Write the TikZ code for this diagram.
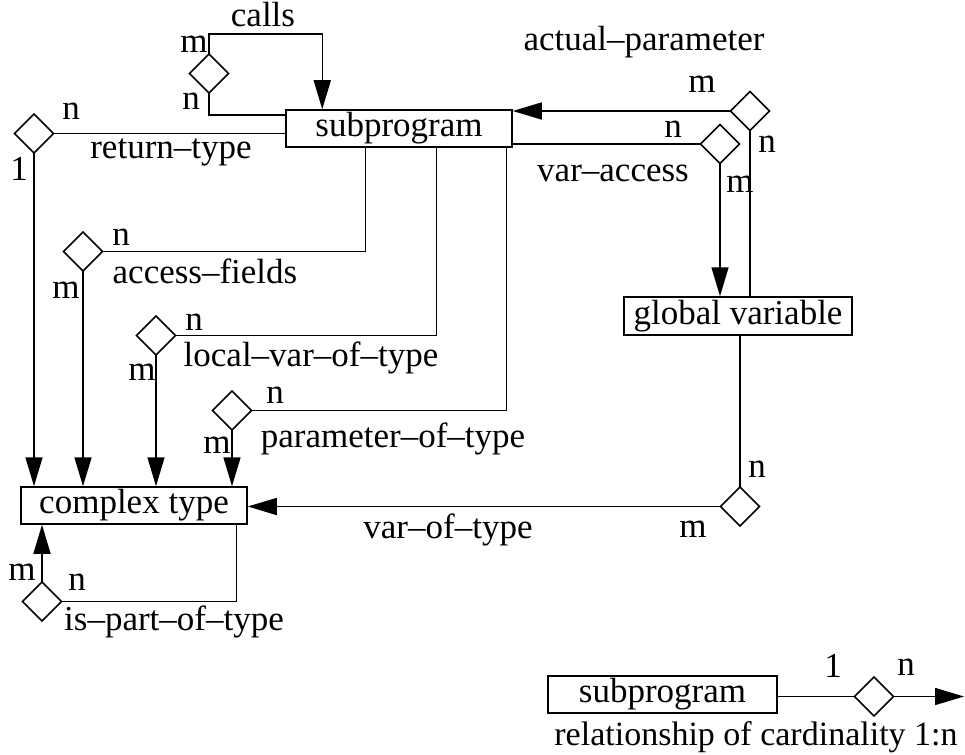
\documentclass[tikz,border=0pt]{standalone}
\usepackage{fontspec}
\setmainfont{Liberation Serif}
\usetikzlibrary{shapes.geometric,arrows.meta}

\tikzset{
  base/.style={font=\fontsize{35}{40}\selectfont},
  entity/.style={base, draw, line width=1.5pt, inner sep=0pt,
    minimum width=226pt, minimum height=37pt},
  rel/.style={draw, shape=diamond, line width=1.5pt, inner sep=0pt,
    minimum width=39pt, minimum height=39pt, outer sep=0pt},
  lbl/.style={base, inner sep=0pt, anchor=base},
  conn/.style={line width=1.5pt},
  arr/.style={conn, -{Triangle[length=29pt, width=17pt]}}
}

\begin{document}
\begin{tikzpicture}[x=1pt, y=-1pt]
\useasboundingbox (0,0) rectangle (965,754);

% entities
\node[entity] (sub) at (399,128.5) {subprogram};
\node[entity] (ctype) at (134,505.5) {complex type};
\node[entity, minimum width=228pt, minimum height=38pt] (gv) at (738,316) {global variable};
\node[entity, minimum width=229pt] (lsub) at (662.5,694.5) {subprogram};

% relationships
\node[rel] (calls) at (209,73.5) {};
\node[rel] (ret) at (34,133.5) {};
\node[rel] (acc) at (83,251.5) {};
\node[rel] (lvt) at (156,335.5) {};
\node[rel] (pot) at (232,410.5) {};
\node[rel] (ap) at (750,111) {};
\node[rel] (va) at (720,144) {};
\node[rel] (vt) at (740,506.5) {};
\node[rel] (ipt) at (42,601.5) {};
\node[rel] (ld) at (874,696.5) {};

% calls (recursive)
\coordinate (callsTop) at (209,34);
\draw[arr] (calls.north) -- (callsTop) -| ([xshift=37pt]sub.north west);
\draw[conn] (calls.south) |- ([yshift=-6pt]sub.north west);

% return-type
\draw[conn] (ret.east) -- (sub.west |- ret.east);
\draw[arr] (ret.south) -- (ret.south |- ctype.north);

% access-fields
\draw[conn] (acc.east) -| ([xshift=80pt]sub.south west);
\draw[arr] (acc.south) -- (acc.south |- ctype.north);

% local-var-of-type
\draw[conn] (lvt.east) -| ([xshift=151pt]sub.south west);
\draw[arr] (lvt.south) -- (lvt.south |- ctype.north);

% parameter-of-type
\draw[conn] (pot.east) -| ([xshift=221pt]sub.south west);
\draw[arr] (pot.south) -- (pot.south |- ctype.north);

% actual-parameter
\draw[arr] (ap.west) -- (sub.east |- ap.west);
\draw[conn] (ap.south) -- (ap.south |- gv.north);

% var-access
\draw[conn] (va.west) -- (sub.east |- va.west);
\draw[arr] (va.south) -- (va.south |- gv.north);

% var-of-type
\draw[conn] (vt.north |- gv.south) -- (vt.north);
\draw[arr] (vt.west) -- (ctype.east |- vt.west);

% is-part-of-type
\draw[arr] (ipt.north) -- (ipt.north |- ctype.south);
\draw[conn] (ipt.east) -| ([xshift=216pt]ctype.south west);

% legend
\coordinate (lend) at (964,696.5);
\draw[conn] (lsub.east |- ld.west) -- (ld.west);
\draw[arr] (ld.east) -- (lend);

% labels
\node[lbl] at (263,27) {calls};
\node[lbl] at (194,53) {m};
\node[lbl] at (191,110) {n};

\node[lbl] at (71,120) {n};
\node[lbl] at (171,159) {return–type};
\node[lbl] at (19,180) {1};

\node[lbl] at (121,245) {n};
\node[lbl] at (205,283) {access–fields};
\node[lbl] at (66,298) {m};

\node[lbl] at (194,330) {n};
\node[lbl] at (311,366) {local–var–of–type};
\node[lbl] at (142,380) {m};

\node[lbl] at (275,403) {n};
\node[lbl] at (393,447) {parameter–of–type};
\node[lbl] at (217,453) {m};

\node[lbl] at (644,51) {actual–parameter};
\node[lbl] at (702,93) {m};
\node[lbl] at (767,153) {n};

\node[lbl] at (673,138) {n};
\node[lbl] at (613,181) {var–access};
\node[lbl] at (740,192) {m};

\node[lbl] at (757,477) {n};
\node[lbl] at (693,537) {m};
\node[lbl] at (448,538) {var–of–type};

\node[lbl] at (22,580) {m};
\node[lbl] at (77,590) {n};
\node[lbl] at (174,630) {is–part–of–type};

\node[lbl] at (833,677) {1};
\node[lbl] at (906,675) {n};
\node[lbl, font=\fontsize{34}{40}\selectfont] at (756,745) {relationship of cardinality 1:n};
\end{tikzpicture}
\end{document}
